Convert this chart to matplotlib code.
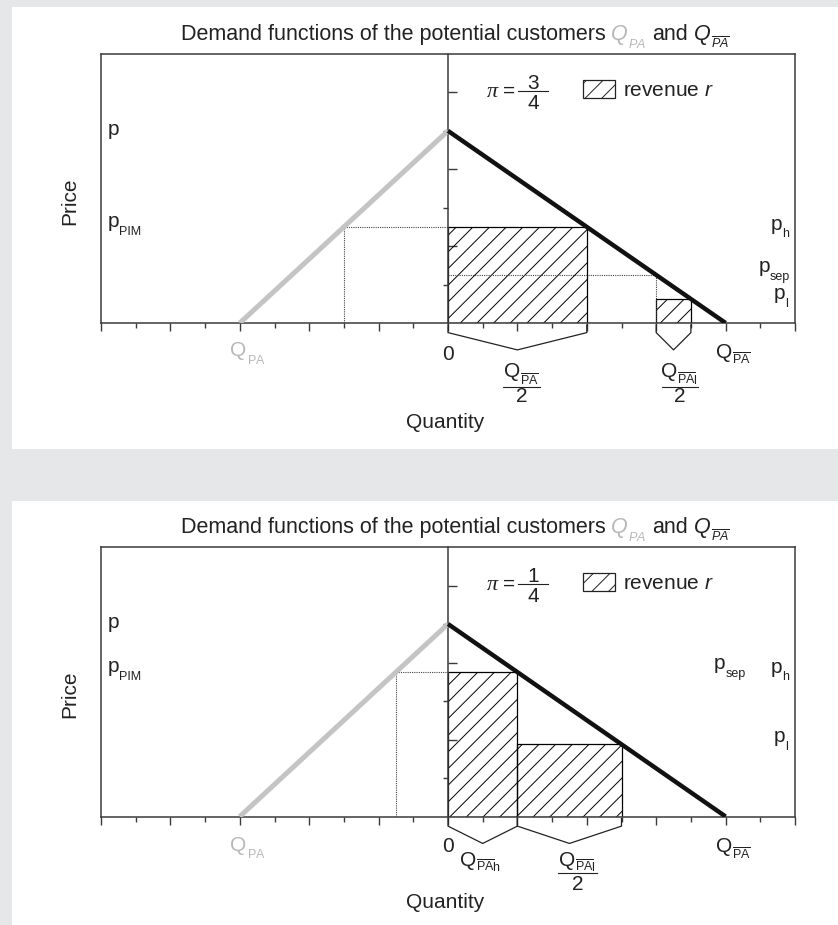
import matplotlib
matplotlib.use("Agg")
import matplotlib.pyplot as plt
from matplotlib.patches import Rectangle, Patch
from matplotlib.lines import Line2D
from matplotlib.transforms import IdentityTransform
from matplotlib.ticker import FixedLocator

plt.rcParams['font.family'] = ['Liberation Sans', 'DejaVu Sans']
plt.rcParams['mathtext.fontset'] = 'custom'
plt.rcParams['mathtext.rm'] = 'Liberation Sans'
plt.rcParams['mathtext.it'] = 'Liberation Sans:italic'
plt.rcParams['mathtext.sf'] = 'Liberation Sans'
plt.rcParams['hatch.linewidth'] = 0.7

W, H = 838, 925
INK = '#222222'
GREY = '#c4c4c4'
GREY_TXT = '#b8b8b8'
AXC = '#3a3a3a'
FS = 15
SUB = 9

# demand functions (quantity intercepts and the common price intercept)
q_pa = -6.0
q_pabar = 8.0
p_max = 1.0

# one entry per panel: pi = 3/4 (top), pi = 1/4 (bottom)
pi_num = ['3', '1']
pi_den = ['4', '4']
rev_x = [[0, 6], [0, 2]]
rev_w = [[4, 1], [2, 3]]
rev_h = [[0.5, 0.125], [0.75, 0.375]]
pim_q = [-3.0, -1.5]
pim_p = [0.5, 0.75]
sep_q = [6.0, None]
sep_p = [0.25, 0.75]
ph = [0.5, 0.75]
pl = [0.125, 0.375]
brace_from = [[0, 6], [0, 2]]
brace_to = [[4, 7], [2, 5]]

fig = plt.figure(figsize=(W / 100, H / 100), dpi=100, facecolor='#e6e7e8')
R = fig.canvas.get_renderer()

# white panels on grey background
fig.add_artist(Rectangle((12 / W, 1 - 449 / H), 1, 442 / H, transform=fig.transFigure,
                         facecolor='white', edgecolor='none', zorder=-10))
fig.add_artist(Rectangle((12 / W, 0), 1, 1 - 501 / H, transform=fig.transFigure,
                         facecolor='white', edgecolor='none', zorder=-10))


def put(X, Y, parts, ha='left'):
    # parts: (text, size, color, drop_px, style, gap_before_px)
    arts, ws = [], []
    for s, size, color, drop, style, gap in parts:
        t = fig.text(0, 0, s, fontsize=size, color=color, fontstyle=style,
                     ha='left', va='baseline', transform=IdentityTransform())
        arts.append(t)
        ws.append(t.get_window_extent(R).width + gap)
    total = sum(ws)
    x0 = X - {'left': 0, 'center': total / 2, 'right': total}[ha]
    for t, w, part in zip(arts, ws, parts):
        t.set_position((x0 + part[5], Y - part[3]))
        x0 += w
    return total


def frac(X, Y, num, den, bar, up, dn):
    put(X, Y + up, num, ha='center')
    put(X, Y - dn, den, ha='center')
    fig.add_artist(Line2D([X - bar / 2, X + bar / 2], [Y, Y], transform=IdentityTransform(),
                          color=INK, lw=0.8))


def pt(ax, x, y, dx=0, dy=0):
    X, Y = ax.transData.transform((x, y))
    return X + dx, Y + dy


def Q(color=INK, sub=r'$\overline{\mathrm{PA}}$', style='normal', drop=7):
    return [('Q', FS, color, 0, style, 0), (sub, SUB, color, drop, 'normal', 0)]


ax_top = [54, 547]
ax_bot = [323, 816.5]
zero_base = [37.5, 35]
qlab_base = [33.5, 34.5]
bar_off = [64, 56.5]
num_up = [10, 7.5]
den_dn = [14.7, 17]
quant_base = [105, 91.5]

for k in range(2):
    ax = fig.add_axes([101 / W, 1 - ax_bot[k] / H, 694 / W, (ax_bot[k] - ax_top[k]) / H])
    ax.set_xlim(-10, 10)
    ax.set_ylim(0, 1.4)

    for s in ax.spines.values():
        s.set_color(AXC)
        s.set_linewidth(1.1)
    ax.spines['left'].set_position(('data', 0))
    ax.axvline(-10, color=AXC, lw=1.1, clip_on=False)

    ax.xaxis.set_major_locator(FixedLocator(range(-10, 11, 2)))
    ax.xaxis.set_minor_locator(FixedLocator(range(-9, 10, 2)))
    ax.yaxis.set_major_locator(FixedLocator([0.4, 0.8, 1.2]))
    ax.yaxis.set_minor_locator(FixedLocator([0.2, 0.6, 1.0]))
    ax.tick_params(axis='x', which='major', direction='out', length=5.8, width=1, color=AXC,
                   labelbottom=False, top=False)
    ax.tick_params(axis='x', which='minor', direction='out', length=3.6, width=1, color=AXC, top=False)
    ax.tick_params(axis='y', which='major', direction='in', length=6.5, width=1, color=AXC,
                   labelleft=False, right=False)
    ax.tick_params(axis='y', which='minor', direction='out', length=3.6, width=1, color=AXC, right=False)

    # revenue rectangles
    ax.bar(rev_x[k], rev_h[k], width=rev_w[k], align='edge', facecolor='none',
           edgecolor='black', hatch='//', lw=0.9, zorder=2)

    # demand lines
    ax.plot([q_pa, 0], [0, p_max], color=GREY, lw=3.6, solid_capstyle='butt', zorder=3)
    ax.plot([0, q_pabar], [p_max, 0], color='#111111', lw=3.2, solid_capstyle='butt', zorder=3)

    # dotted guides
    dot = dict(ls=(0, (1, 1)), lw=0.8, color='#444444', zorder=2.5)
    ax.plot([pim_q[k], 0], [pim_p[k], pim_p[k]], **dot)
    ax.plot([pim_q[k], pim_q[k]], [0, pim_p[k]], **dot)
    if sep_q[k] is not None:
        ax.plot([0, sep_q[k]], [sep_p[k], sep_p[k]], **dot)
        ax.plot([sep_q[k], sep_q[k]], [0, sep_p[k]], **dot)

    # braces under the rectangles
    for a, b in zip(brace_from[k], brace_to[k]):
        ax.plot([a, a, (a + b) / 2, b, b], [-0.01, -0.05, -0.14, -0.05, -0.01],
                color=INK, lw=0.9, clip_on=False)

    # labels under the quantity axis
    put(*pt(ax, 0, 0, 0, -zero_base[k]), [('0', FS, INK, 0, 'normal', 0)], ha='center')
    put(*pt(ax, q_pa, 0, 8, -qlab_base[k]), Q(GREY_TXT, r'$\mathrm{PA}$'), ha='center')
    put(*pt(ax, q_pabar, 0, 8, -qlab_base[k] - 1), Q(), ha='center')
    put(*pt(ax, 0, 0, -3, -quant_base[k]), [('Quantity', FS, INK, 0, 'normal', 0)], ha='center')

    if k == 0:
        X, Y = pt(ax, 2, 0, 4, -bar_off[k])
        frac(X, Y, Q(drop=8), [('2', FS, INK, 0, 'normal', 0)], 37, num_up[k], den_dn[k])
        X, Y = pt(ax, 6.5, 0, 6, -bar_off[k])
        frac(X, Y, Q(sub=r'$\overline{\mathrm{PA}}\mathrm{l}$', drop=8),
             [('2', FS, INK, 0, 'normal', 0)], 36, num_up[k], den_dn[k])
    else:
        put(*pt(ax, 1, 0, -2, -49.5), Q(sub=r'$\overline{\mathrm{PA}}\mathrm{h}$', drop=6),
            ha='center')
        X, Y = pt(ax, 3.5, 0, 8, -bar_off[k])
        frac(X, Y, Q(sub=r'$\overline{\mathrm{PA}}\mathrm{l}$', drop=7),
             [('2', FS, INK, 0, 'normal', 0)], 39, num_up[k], den_dn[k])

    # price labels, left
    put(*pt(ax, -10, p_max, 7, -4), [('p', FS, INK, 0, 'normal', 0)])
    put(*pt(ax, -10, pim_p[k], 7, 0), [('p', FS, INK, 0, 'normal', 0),
                                        ('PIM', SUB, INK, 8, 'normal', 0)])
    # price labels, right
    put(*pt(ax, 10, ph[k], -6, -3 if k == 0 else -1),
        [('p', FS, INK, 0, 'normal', 0), ('h', SUB, INK, 7, 'normal', 0)], ha='right')
    put(*pt(ax, 10, pl[k], -7, 0 if k == 0 else 2),
        [('p', FS, INK, 0, 'normal', 0), ('l', SUB, INK, 8, 'normal', 0)], ha='right')
    sep_x, sep_dx = (10, -5) if k == 0 else (8.6, -1)
    put(*pt(ax, sep_x, sep_p[k], sep_dx, 3),
        [('p', FS, INK, 0, 'normal', 0), ('sep', SUB, INK, 8, 'normal', 0)], ha='right')

    # pi = num/den and legend
    X0, Y0 = ax.transAxes.transform((0, 1))
    barY = Y0 - 37
    put(X0 + 386, barY - 6, [('π', FS + 1, INK, 0, 'italic', 0)])
    fig.texts[-1].set_family('Liberation Serif')
    put(X0 + 402, barY - 6, [('=', FS, INK, 0, 'normal', 0)])
    frac(X0 + 432, barY, [(pi_num[k], FS, INK, 0, 'normal', 0)],
         [(pi_den[k], FS, INK, 0, 'normal', 0)], 30, 2, 18)

    leg = ax.legend(handles=[Patch(facecolor='white', edgecolor=INK, hatch='//', lw=0.9)],
                    labels=['revenue $r$'], loc='center left',
                    bbox_to_anchor=((583 - 101) / 694, 1 - 36 / 269), frameon=False,
                    borderpad=0, borderaxespad=0, handlelength=1.54, handleheight=0.92,
                    handletextpad=0.4, fontsize=FS)
    for t in leg.get_texts():
        t.set_color(INK)

    # title
    put(455, H - (ax_top[k] - 14), [
        ('Demand functions of the potential customers', 15.5, INK, 0, 'normal', 0),
        ('Q', 15.5, GREY_TXT, 0, 'italic', 6),
        ('$PA$', SUB, GREY_TXT, 8, 'normal', 0),
        ('and', 15.5, INK, 0, 'normal', 6),
        ('Q', 15.5, INK, 0, 'italic', 6),
        (r'$\overline{PA}$', SUB, INK, 8, 'normal', 0),
    ], ha='center')

    # y label
    fig.text(70 / W, 1 - (ax_top[k] + 147) / H, 'Price', rotation=90, fontsize=FS,
             color=INK, ha='center', va='center')

fig.savefig('out.png', dpi=100, facecolor=fig.get_facecolor())
